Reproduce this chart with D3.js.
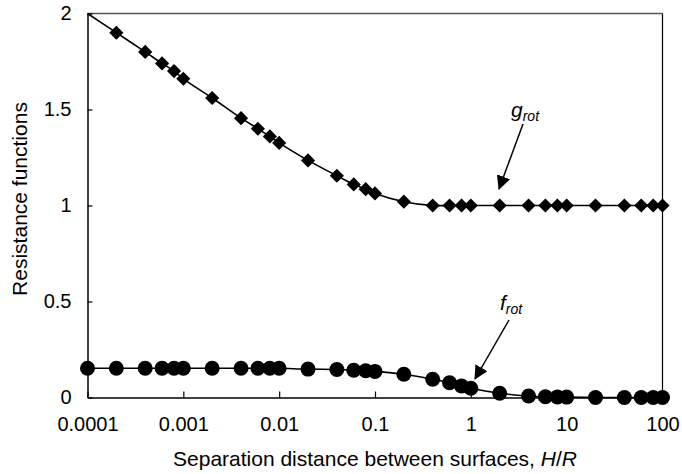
<!DOCTYPE html>
<html lang="en">
<head>
    <meta charset="UTF-8">
    <title>Resistance functions</title>
    <script src="https://d3js.org/d3.v7.min.js"></script>
    <style>
        body { margin: 0; background: #fff; }
        text { font-family: Arial, "Liberation Sans", sans-serif; fill: #000; }
    </style>
</head>
<body>
<script type="text/javascript">
    var svgWidth = 682;
    var svgHeight = 474;
    var margin = {top: 13.5, right: 19.5, bottom: 76.5, left: 87.5};

    // separation distance H/R
    var separation = [0.0001, 0.0002, 0.0004, 0.0006, 0.0008, 0.001, 0.002, 0.004, 0.006, 0.008,
        0.01, 0.02, 0.04, 0.06, 0.08, 0.1, 0.2, 0.4, 0.6, 0.8,
        1, 2, 4, 6, 8, 10, 20, 40, 60, 80, 100];
    var gRot = [2.0, 1.90, 1.80, 1.74, 1.70, 1.66, 1.56, 1.455, 1.40, 1.36,
        1.326, 1.235, 1.155, 1.11, 1.085, 1.063, 1.02, 1.0, 1.0, 1.0,
        1.0, 1.0, 1.0, 1.0, 1.0, 1.0, 1.0, 1.0, 1.0, 1.0, 1.0];
    var fRot = [0.152, 0.152, 0.152, 0.152, 0.152, 0.152, 0.152, 0.152, 0.152, 0.152,
        0.152, 0.148, 0.146, 0.142, 0.139, 0.136, 0.121, 0.095, 0.077, 0.06,
        0.048, 0.022, 0.008, 0.004, 0.003, 0.002, 0, 0, 0, 0, 0];
    var xTicks = [0.0001, 0.001, 0.01, 0.1, 1, 10, 100];
    var xTickLabels = ["0.0001", "0.001", "0.01", "0.1", "1", "10", "100"];
    var yTicks = [0, 0.5, 1, 1.5, 2];

    var innerW = svgWidth - margin.left - margin.right;
    var innerH = svgHeight - margin.top - margin.bottom;

    var xScale = d3.scaleLog().domain([0.0001, 100]).range([0, innerW]);
    var yScale = d3.scaleLinear().domain([0, 2]).range([innerH, 0]);

    var svg = d3.select("body").append("svg")
        .attr("width", svgWidth)
        .attr("height", svgHeight);
    var g = svg.append("g")
        .attr("transform", "translate(" + margin.left + "," + margin.top + ")");

    // plot frame (top / right)
    g.append("line").attr("x1", 0).attr("x2", innerW).attr("y1", 0).attr("y2", 0)
        .style("stroke", "#555").style("stroke-width", 1.5);
    g.append("line").attr("x1", innerW).attr("x2", innerW).attr("y1", 0).attr("y2", innerH)
        .style("stroke", "#000").style("stroke-width", 1.2);

    var xAxis = d3.axisBottom(xScale)
        .tickValues(xTicks)
        .tickFormat(function (d, i) { return xTickLabels[i]; })
        .tickSizeInner(-6)
        .tickSizeOuter(0)
        .tickPadding(19);
    var gx = g.append("g")
        .attr("transform", "translate(0," + innerH + ")")
        .call(xAxis);

    var yAxis = d3.axisLeft(yScale)
        .tickValues(yTicks)
        .tickFormat(d3.format("~g"))
        .tickSizeInner(-5)
        .tickSizeOuter(0)
        .tickPadding(16);
    var gy = g.append("g").call(yAxis);

    [gx, gy].forEach(function (ax) {
        ax.select(".domain").style("stroke", "#000").style("stroke-width", 1.5);
        ax.selectAll(".tick line").style("stroke", "#000").style("stroke-width", 1.2);
        ax.selectAll(".tick text").style("font-size", "20px").style("font-family", "Arial, 'Liberation Sans', sans-serif");
    });

    var line = d3.line()
        .x(function (d) { return xScale(d[0]); })
        .y(function (d) { return yScale(d[1]); })
        .curve(d3.curveCatmullRom);

    var gData = separation.map(function (x, i) { return [x, gRot[i]]; });
    var fData = separation.map(function (x, i) { return [x, fRot[i]]; });

    g.append("path").datum(gData).attr("d", line)
        .style("fill", "none").style("stroke", "#000").style("stroke-width", 1.6);
    g.append("path").datum(fData).attr("d", line)
        .style("fill", "none").style("stroke", "#000").style("stroke-width", 1.6);

    // no diamond is shown at the very first point (corner of the plot)
    g.selectAll(".diamond")
        .data(gData.slice(1))
        .enter()
        .append("path")
        .attr("class", "diamond")
        .attr("d", d3.symbol().type(d3.symbolSquare).size(100))
        .attr("transform", function (d) {
            return "translate(" + xScale(d[0]) + "," + yScale(d[1]) + ") rotate(45)";
        })
        .style("fill", "#000");

    g.selectAll(".dot")
        .data(fData)
        .enter()
        .append("circle")
        .attr("class", "dot")
        .attr("cx", function (d) { return xScale(d[0]); })
        .attr("cy", function (d) { return yScale(d[1]); })
        .attr("r", 7.5)
        .style("fill", "#000");

    // axis titles
    var xt = svg.append("text")
        .attr("x", margin.left + innerW / 2)
        .attr("y", 466)
        .attr("text-anchor", "middle")
        .style("font-size", "21px");
    xt.append("tspan").text("Separation distance between surfaces, ");
    xt.append("tspan").style("font-style", "italic").text("H");
    xt.append("tspan").text("/");
    xt.append("tspan").style("font-style", "italic").text("R");

    svg.append("text")
        .attr("transform", "translate(27,199) rotate(-90)")
        .attr("text-anchor", "middle")
        .style("font-size", "21px")
        .text("Resistance functions");

    // annotations with arrows
    var defs = svg.append("defs");
    defs.append("marker")
        .attr("id", "arrow")
        .attr("viewBox", "0 0 14 14")
        .attr("refX", 13).attr("refY", 7)
        .attr("markerWidth", 14).attr("markerHeight", 14)
        .attr("markerUnits", "userSpaceOnUse")
        .attr("orient", "auto")
        .append("path").attr("d", "M0,0 L14,7 L0,14 z").style("fill", "#000");

    var labels = [
        {name: "g", x: 511, y: 117, ax1: 523, ay1: 124, ax2: 499, ay2: 189},
        {name: "f", x: 500, y: 310, ax1: 509, ay1: 320, ax2: 475, ay2: 379}
    ];
    labels.forEach(function (d) {
        var t = svg.append("text").attr("x", d.x).attr("y", d.y)
            .style("font-style", "italic").style("font-size", "21px");
        t.append("tspan").text(d.name);
        t.append("tspan").attr("dy", 4).style("font-size", "14px").text("rot");
        svg.append("line")
            .attr("x1", d.ax1).attr("y1", d.ay1).attr("x2", d.ax2).attr("y2", d.ay2)
            .style("stroke", "#000").style("stroke-width", 1.5)
            .attr("marker-end", "url(#arrow)");
    });
</script>
</body>
</html>
